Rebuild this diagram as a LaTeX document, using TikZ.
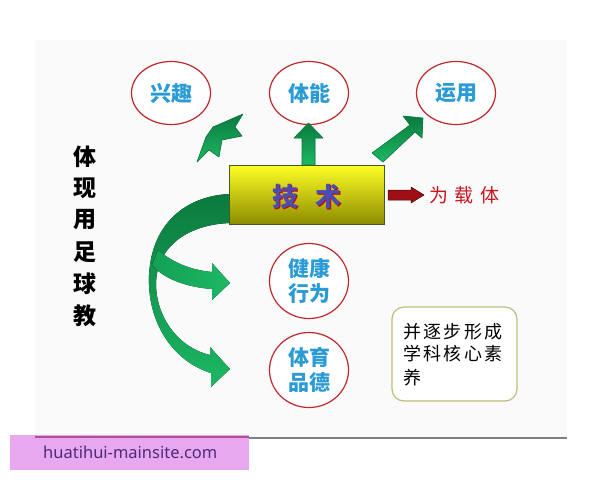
\documentclass[tikz,border=0pt]{standalone}
\usepackage{fontspec}
\usetikzlibrary{shapes.geometric}
\setmainfont{Noto Sans}
\newfontfamily\cjk{Noto Sans CJK SC}
\newcommand{\cjkb}{\cjk\bfseries}
\definecolor{circred}{HTML}{C0262B}
\definecolor{circtxt}{HTML}{2A9BD5}
\definecolor{gdark}{HTML}{0B7A3E}
\definecolor{gmid}{HTML}{13A055}
\definecolor{glight}{HTML}{1DB864}
\definecolor{boxedge}{HTML}{3F5A2A}
\definecolor{tboxedge}{HTML}{BDBD7A}
\definecolor{wmpink}{HTML}{E8A8F0}
\definecolor{wmtxt}{HTML}{4E2A78}
\definecolor{darkred}{HTML}{9E1016}
\definecolor{txtred}{HTML}{C8141E}
\tikzset{
  goal/.style={ellipse, draw=circred, line width=1.2pt, fill=white, minimum width=79pt, minimum height=63pt, inner sep=0pt, text=circtxt, font=\cjkb\fontsize{21}{25}\selectfont, align=center},
  goalbig/.style={goal, minimum height=75pt},
  garrow/.style={fill=gmid, draw=gdark, line width=0.6pt, line join=round},
  vchar/.style={font=\cjkb\fontsize{23}{23}\selectfont, text=black, inner sep=0pt},
  bchar/.style={font=\cjk\fontsize{18}{18}\selectfont, text=black, inner sep=0pt},
  rchar/.style={font=\cjk\fontsize{19}{19}\selectfont, text=txtred, inner sep=0pt},
  techchar/.style={font=\cjkb\fontsize{26}{26}\selectfont, inner sep=0pt}
}
\begin{document}
\begin{tikzpicture}[x=1pt,y=-1pt]
\useasboundingbox (0,0) rectangle (600,480);
\fill[white] (0,0) rectangle (600,480);
% slide background
\fill[black!2] (35,40) rectangle (567,438);
\draw[black!50, line width=2pt] (35,438) -- (567,438);

% top goal circles
\node[goal] (xq) at (171,93) {兴趣};
\node[goal] (tn) at (309,93) {体能};
\node[goal] (yy) at (456,93) {运用};

% up arrow
\filldraw[garrow, top color=gdark, bottom color=glight] (302,165) -- (302,138) -- (294,138) -- (308.5,123) -- (323,138) -- (315,138) -- (315,165) -- cycle;
% upper-left jagged arrow
\filldraw[garrow, top color=gdark, bottom color=glight] (243,114) -- (213,127) -- (206,137) -- (197,162) -- (209,150) -- (219,157) -- (222,140) -- (242,136) -- (235,127) -- cycle;
% right arrow
\filldraw[garrow, top color=gdark, bottom color=glight] (372,153) -- (410,125) -- (403,116) -- (423,118) -- (422,138) -- (415,132) -- (383,162) -- cycle;

% main curved arrow (to lower circle)
\fill[top color=gdark, bottom color=glight] (231,194) .. controls (190,195) and (152,220) .. (149,275) .. controls (147,325) and (175,362) .. (211,373) -- (211,387) -- (230,369) -- (210,347) -- (210,355) .. controls (180,348) and (157,320) .. (156,285) .. controls (156,245) and (190,224) .. (231,223) -- cycle;
% branch arrow (to middle circle)
\fill[left color=gmid, right color=glight] (158,250) .. controls (172,262) and (190,270) .. (212,272) -- (212,263) -- (230,283) -- (212,300) -- (212,289) .. controls (185,287) and (163,278) .. (152,265) -- cycle;

% technique box
\node[draw=boxedge, line width=1pt, top color=yellow!85!white, bottom color=yellow!55!black, minimum width=155pt, minimum height=59pt, inner sep=0pt] (js) at (307,194.5) {};
\node[techchar, text=red!80!black] at (286,198) {技};
\node[techchar, text=red!80!black] at (329,198) {术};
\node[techchar, text=blue!40!gray] (ji) at (285,197) {技};
\node[techchar, text=blue!40!gray] (shu) at (328,197) {术};

% red arrow
\filldraw[fill=darkred, draw=black!70!red, line width=0.5pt] (388,190) -- (411,190) -- (411,187) -- (424,195) -- (411,203) -- (411,200) -- (388,200) -- cycle;
\node[rchar] (w1) at (439,195) {为};
\node[rchar] (w2) at (464,195) {载};
\node[rchar] (w3) at (490,195) {体};

% left vertical text
\foreach \c/\yy in {体/157,现/188,用/220,足/252,球/284,教/316}
  \node[vchar] at (85,\yy) {\c};

% lower circles
\node[goalbig] (jk) at (309,281) {健康\\行为};
\node[goalbig] (ty) at (309,370) {体育\\品德};

% text box
\draw[draw=tboxedge, line width=1.2pt, fill=white, rounded corners=12pt] (392,307) rectangle (517,401);
\foreach \c/\xx in {并/412,逐/432,步/452.5,形/473,成/493.5}
  \node[bchar] at (\xx,332) {\c};
\foreach \c/\xx in {学/412,科/432,核/452.5,心/473,素/493.5}
  \node[bchar] at (\xx,354) {\c};
\node[bchar] at (412,378) {养};

% watermark
\fill[wmpink] (10,435) rectangle (249,470);
\draw[violet!60!pink, line width=1.5pt] (35,437) -- (249,437);
\node[font=\fontsize{16.5}{16.5}\selectfont, text=wmtxt, anchor=west, inner sep=0pt] (wm) at (43,452) {huatihui-mainsite.com};
\end{tikzpicture}
\end{document}
